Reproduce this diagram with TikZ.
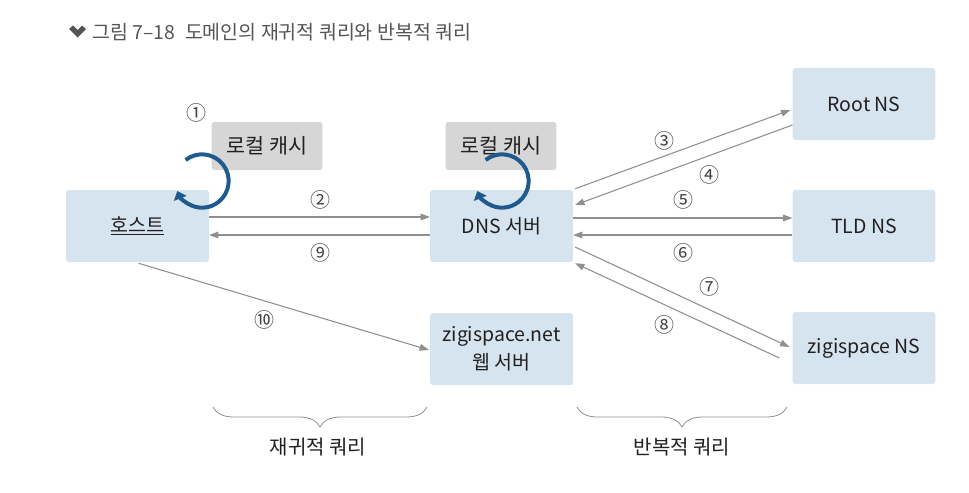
\documentclass[tikz,border=0pt]{standalone}
\usepackage{fontspec}
\setmainfont{Noto Sans CJK KR}
\usetikzlibrary{arrows.meta,decorations.pathreplacing}
\definecolor{figink}{HTML}{231F20}
\definecolor{figcap}{HTML}{555555}
\definecolor{figbox}{HTML}{D5E4EF}
\definecolor{figcache}{HTML}{D6D6D6}
\definecolor{figline}{HTML}{8F8F8F}
\definecolor{figloop}{HTML}{1F5A8E}

\begin{document}
\begin{tikzpicture}[
  x=0.75pt,
  y=-0.75pt,
  every node/.style={font=\fontsize{14.6}{17}\selectfont, figink},
  box/.style={rectangle, rounded corners=2pt, fill=figbox, inner sep=0pt,
              minimum width=107pt, minimum height=54pt, align=center},
  cache/.style={rectangle, rounded corners=2pt, fill=figcache, inner sep=0pt,
                minimum width=83pt, minimum height=36pt,
                font=\fontsize{15.5}{17}\selectfont},
  link/.style={figline, line width=0.8pt, -{Triangle[length=7pt, width=5pt]}},
  cacheloop/.style={figloop, line width=3pt, -{Triangle[length=6pt, width=10pt]}},
  num/.style={font=\fontsize{15}{17}\selectfont, figink!85},
  groupbrace/.style={figline, line width=0.6pt, decorate,
                     decoration={brace, mirror, amplitude=15pt}},
  grouplabel/.style={font=\fontsize{15}{17}\selectfont}
]
  \useasboundingbox (0,0) rectangle (969,492);

  % ---- caption ----
  \fill[figcap] (69,29) -- (73,25.5) -- (77.5,30) -- (82,25.5) -- (86,29)
    -- (77.5,37.5) -- cycle;
  \node[anchor=west, inner sep=0pt, figcap, font=\fontsize{14.6}{17}\selectfont]
    (caption) at (92,32) {그림 7–18\hspace{0.5em}도메인의 재귀적 쿼리와 반복적 쿼리};

  % ---- servers ----
  \node[box] (host) at (137.5,226) {\underline{호스트}};
  \node[box] (dns)  at (501.5,226) {DNS 서버};
  \node[box] (web)  at (501.5,349) {zigispace.net\\[4pt]웹 서버};
  \node[box] (root) at (864,104)   {Root NS};
  \node[box] (tld)  at (864,226)   {TLD NS};
  \node[box] (zns)  at (864,348)   {zigispace NS};

  % ---- local caches ----
  \node[cache] (hcache) at (267,146) {로컬 캐시};
  \node[cache] (dcache) at (501,146) {로컬 캐시};

  % ---- recursive query: host <-> dns ----
  \draw[link] ([yshift=6.75pt]host.east) -- ([yshift=6.75pt]dns.west);
  \draw[link] ([yshift=-6.75pt]dns.west) -- ([yshift=-6.75pt]host.east);
  \draw[link] ([shift={(1,1)}]host.south) -- ([shift={(-1,1)}]web.west);

  % ---- iterative query: dns <-> name servers ----
  \draw[link] ([shift={(2,-1)}]dns.north east) -- ([shift={(-2,6)}]root.west);
  \draw[link] ([shift={(0,21)}]root.west) -- ([shift={(2,-21)}]dns.east);
  \draw[link] ([yshift=6pt]dns.east) -- ([yshift=6pt]tld.west);
  \draw[link] ([yshift=-6.75pt]tld.west) -- ([yshift=-6.75pt]dns.east);
  \draw[link] ([shift={(2,21)}]dns.east) -- ([shift={(-3,-1)}]zns.west);
  \draw[link] ([shift={(-13,10)}]zns.west) -- ([shift={(2,1)}]dns.south east);

  % ---- step numbers ----
  \node[num] (n1)  at (196,113) {①};
  \node[num] (n2)  at (320,200) {②};
  \node[num] (n3)  at (664,141) {③};
  \node[num] (n4)  at (709,175) {④};
  \node[num] (n5)  at (683,200) {⑤};
  \node[num] (n6)  at (683,253) {⑥};
  \node[num] (n7)  at (709,287) {⑦};
  \node[num] (n8)  at (664,325) {⑧};
  \node[num] (n9)  at (320,253) {⑨};
  \node[num] (n10) at (264,320) {⑩};

  % ---- cache lookups (drawn last, over the boxes) ----
  \draw[cacheloop] (202,181) ++(128:20pt) arc[start angle=128, end angle=-158, radius=20pt];
  \draw[cacheloop] (502,181) ++(128:20pt) arc[start angle=128, end angle=-158, radius=20pt];

  % ---- query groups ----
  \draw[groupbrace] (213,407) -- (427,407);
  \draw[groupbrace] (577,407) -- (787,407);
  \node[grouplabel] (recursive) at (318,447) {재귀적 쿼리};
  \node[grouplabel] (iterative) at (682,447) {반복적 쿼리};
\end{tikzpicture}
\end{document}
